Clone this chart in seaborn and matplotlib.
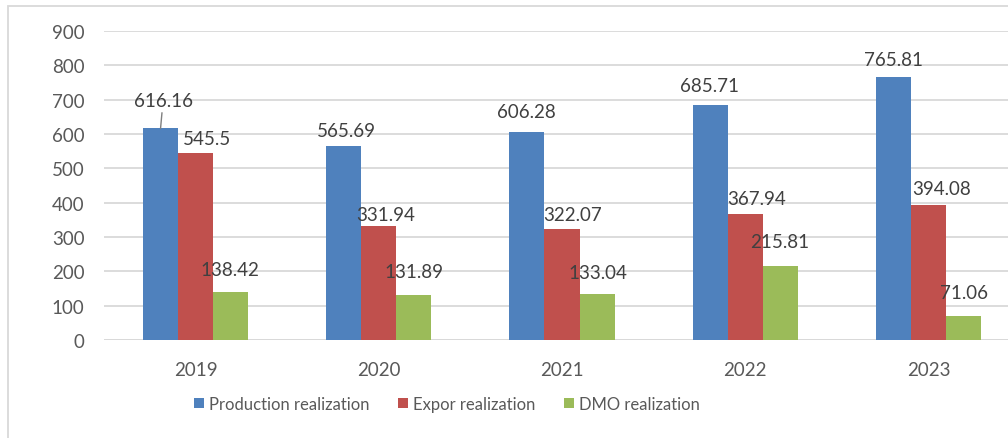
import numpy as np
import pandas as pd
import matplotlib
matplotlib.use("Agg")
import matplotlib.pyplot as plt
import seaborn as sns
from matplotlib.patches import Rectangle

years = ['2019', '2020', '2021', '2022', '2023']
series = ['Production realization', 'Expor realization', 'DMO realization']
production = [616.16, 565.69, 606.28, 685.71, 765.81]
export = [545.5, 331.94, 322.07, 367.94, 394.08]
dmo = [138.42, 131.89, 133.04, 215.81, 71.06]
colors = ['#4F81BD', '#C0504D', '#9BBB59']

# label offsets in pixels (dx, dy) from the top centre of each bar,
# as they were dragged around in the original
label_offsets = [
    [(2.5, 27.5), (2.5, 15), (-1, 20), (-1, 18.6), (0, 18)],
    [(11, 14), (6.5, 12), (10.5, 15), (11.5, 15), (13.5, 16)],
    [(-1, 22.5), (0.5, 23), (0.5, 22), (-0.5, 24), (1, 23.6)],
]

df = pd.DataFrame({'year': years, series[0]: production,
                   series[1]: export, series[2]: dmo})
df_melted = df.melt(id_vars='year', var_name='series', value_name='value')

sns.set_style('white')
plt.rcParams['font.family'] = ['Lato', 'DejaVu Sans']

fig = plt.figure(figsize=(10.08, 4.39), dpi=100)
ax = fig.add_axes([104 / 1008, 98 / 439, 916 / 1008, 309 / 439])

# chart area border
fig.patches.append(Rectangle((8 / 1008, -0.1), 1.1, (439 - 7) / 439 + 0.1,
                             transform=fig.transFigure, fill=False,
                             edgecolor='#d9d9d9', linewidth=1.3))

sns.barplot(data=df_melted, x='year', y='value', hue='series', palette=colors,
            saturation=1, width=0.574, gap=0, linewidth=0, ax=ax, legend=True)

ax.set_ylim(0, 900)
ax.set_xlim(-0.5, 4.5)
ax.set_yticks(np.arange(0, 901, 100))
ax.yaxis.grid(True, color='#d9d9d9', linewidth=1.3)
ax.set_axisbelow(True)
for s in ax.spines.values():
    s.set_visible(False)
ax.axhline(0, color='#d9d9d9', linewidth=1.3, zorder=0.5)
ax.tick_params(axis='y', length=0, pad=14, labelsize=13.5, labelcolor='#595959')
ax.tick_params(axis='x', length=0, pad=15, labelsize=13.5, labelcolor='#595959')
ax.set_xlabel('')
ax.set_ylabel('')

px = 0.72  # pixels -> points at 100 dpi
for i, cont in enumerate(ax.containers):
    for j, bar in enumerate(cont):
        v = bar.get_height()
        dx, dy = label_offsets[i][j]
        arrow = None
        if i == 0 and j == 0:
            arrow = dict(arrowstyle='-', color='#7f7f7f', lw=1, shrinkA=0, shrinkB=0)
        ax.annotate(f'{v:g}', xy=(bar.get_x() + bar.get_width() / 2, v),
                    xytext=(dx * px, dy * px), textcoords='offset points',
                    ha='center', va='center', fontsize=13.5, color='#404040',
                    arrowprops=arrow, annotation_clip=False)

handles, labels = ax.get_legend_handles_labels()
ax.legend_.remove()
fig.legend(handles, labels, loc='center', bbox_to_anchor=(447 / 1008, 1 - 405 / 439),
           ncol=3, frameon=False, fontsize=12, labelcolor='#595959',
           handlelength=0.6, handleheight=0.6, handletextpad=0.3,
           columnspacing=1.7)

fig.savefig('out.png', dpi=100)
